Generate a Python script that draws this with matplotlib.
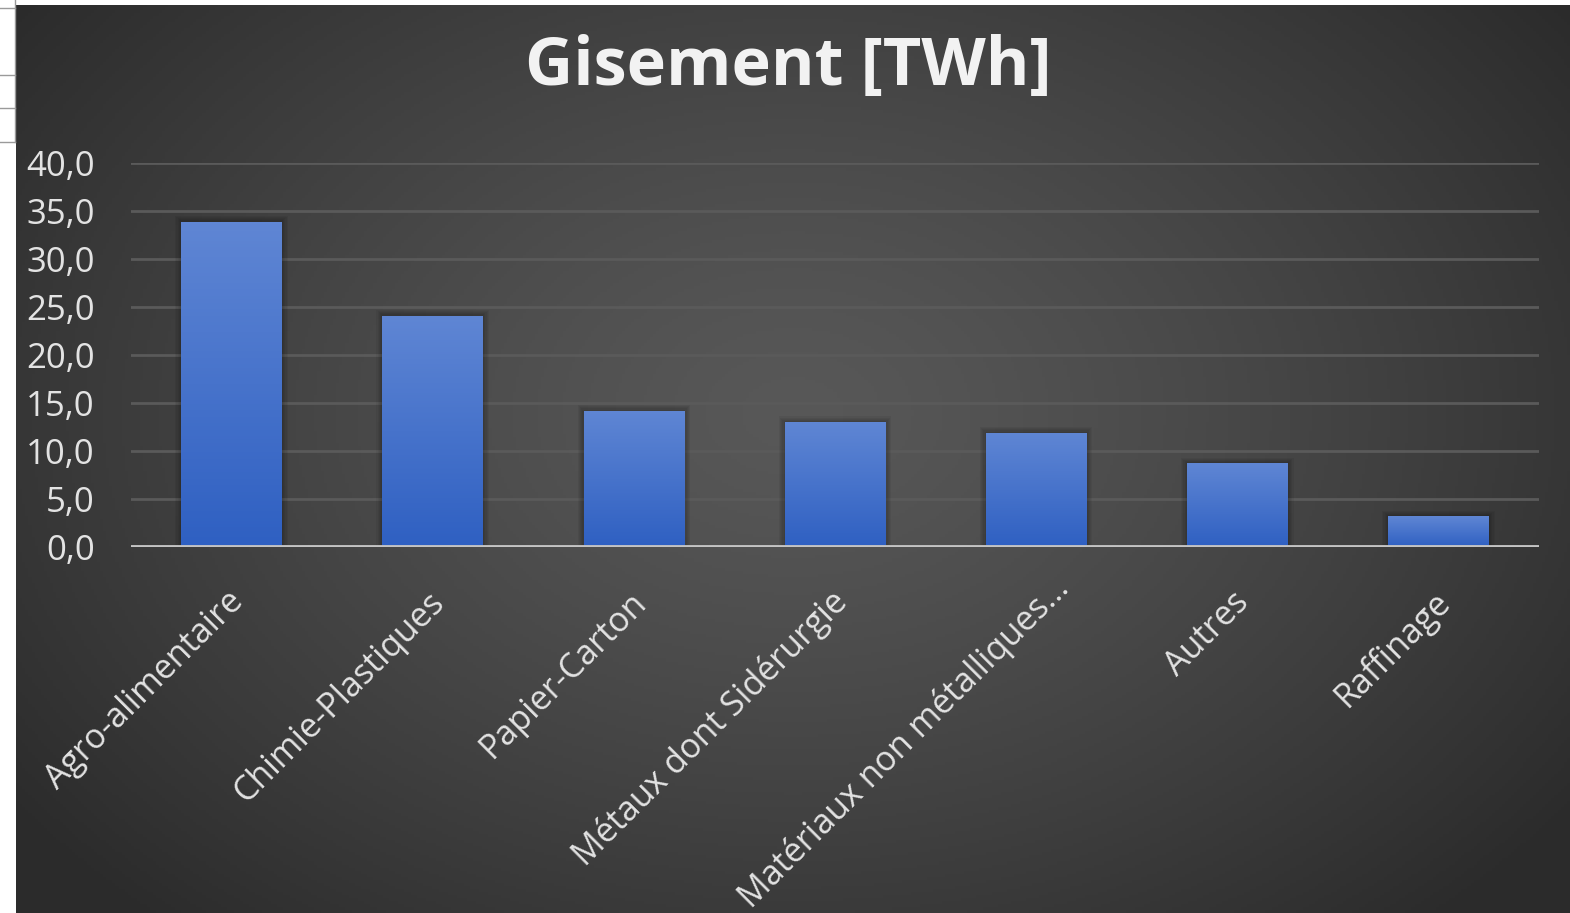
import numpy as np
import matplotlib
matplotlib.use('Agg')
import matplotlib.pyplot as plt
from matplotlib.ticker import FuncFormatter
from matplotlib.lines import Line2D

categories = ['Agro-alimentaire', 'Chimie-Plastiques', 'Papier-Carton', 'Métaux dont Sidérurgie',
              'Matériaux non métalliques...', 'Autres', 'Raffinage']
gisement = [33.9, 24.1, 14.2, 13.0, 11.9, 8.7, 3.2]
yticks = [0, 5, 10, 15, 20, 25, 30, 35, 40]

plt.rcParams['font.family'] = ['Open Sans', 'DejaVu Sans']

W, H = 1570, 913
fig = plt.figure(figsize=(W / 100, H / 100), dpi=100)
fig.patch.set_facecolor('white')

# fond du graphique (dégradé radial, style Excel)
bg = fig.add_axes([16 / W, 0, (W - 16) / W, (H - 5) / H], zorder=0)
bg.set_axis_off()
yy, xx = np.mgrid[0:1:300j, 0:1:500j]
r = np.sqrt(((xx - 0.5) / 0.62) ** 2 + ((yy - 0.55) / 0.75) ** 2)
r = np.clip(r, 0, 1)
val = 0.345 - 0.175 * r ** 1.3
bg.imshow(np.dstack([val, val, val]), extent=[0, 1, 0, 1], aspect='auto', origin='lower')
bg.set_xlim(0, 1)
bg.set_ylim(0, 1)

# bout de tableau Excel à gauche
for yl in [8, 75, 108, 142]:
    fig.add_artist(Line2D([0, 15 / W], [1 - yl / H, 1 - yl / H], color='#9a9a9a', lw=1, zorder=1))
fig.add_artist(Line2D([15 / W, 15 / W], [1 - 142 / H, 1], color='#9a9a9a', lw=1, zorder=1))

ax = fig.add_axes([131 / W, (H - 547) / H, 1408 / W, 384 / H], zorder=2)
ax.set_facecolor('none')
x = np.arange(len(categories))
bars = ax.bar(x, gisement, width=0.5, color='#3f6fcc', zorder=3)

# dégradé vertical dans les barres
grad = np.linspace(0, 1, 100).reshape(-1, 1)
top_c = np.array([0x5f, 0x86, 0xd4]) / 255
bot_c = np.array([0x2f, 0x60, 0xc2]) / 255
img = bot_c[None, None, :] * (1 - grad[:, :, None]) + top_c[None, None, :] * grad[:, :, None]
for b in bars:
    # ombre douce
    for k in range(1, 6):
        ax.bar(b.get_x() + b.get_width() / 2, b.get_height() + 0.12 * k, width=b.get_width() + 0.012 * k,
               color='black', alpha=0.05, zorder=2.5, linewidth=0)
    im = ax.imshow(img, extent=[b.get_x(), b.get_x() + b.get_width(), 0, b.get_height()],
                   origin='lower', aspect='auto', zorder=3.5)
    im.set_clip_path(b)

ax.set_xlim(-0.5, len(categories) - 0.5)
ax.set_ylim(0, 40)
ax.set_yticks(yticks)
ax.yaxis.set_major_formatter(FuncFormatter(lambda v, p: f'{v:.1f}'.replace('.', ',')))
ax.grid(axis='y', color='#5a5a5a', lw=2, zorder=1)
ax.axhline(0, color='#c4c4c4', lw=3.5, zorder=4)
for s in ax.spines.values():
    s.set_visible(False)
ax.tick_params(axis='y', length=0, labelsize=25, labelcolor='#e3e3e3', pad=26)
ax.tick_params(axis='x', length=0)
ax.set_xticks(x)
ax.set_xticklabels([])
for i, lab in enumerate(categories):
    off = (7, -50)
    if len(lab) > 25:  # Excel décale l'étiquette tronquée
        off = (28, -36)
    ax.annotate(lab, xy=(i, 0), xytext=off, textcoords='offset pixels',
                rotation=45, ha='right', va='center', rotation_mode='anchor',
                fontsize=24.5, color='#e3e3e3', annotation_clip=False)

fig.text((520 + 1057) / 2 / W, 1 - 67 / H, 'Gisement [TWh]', ha='center', va='center',
         fontsize=48, fontweight='bold', color='#f2f2f2')

fig.savefig('out.png', dpi=100, facecolor='white')
